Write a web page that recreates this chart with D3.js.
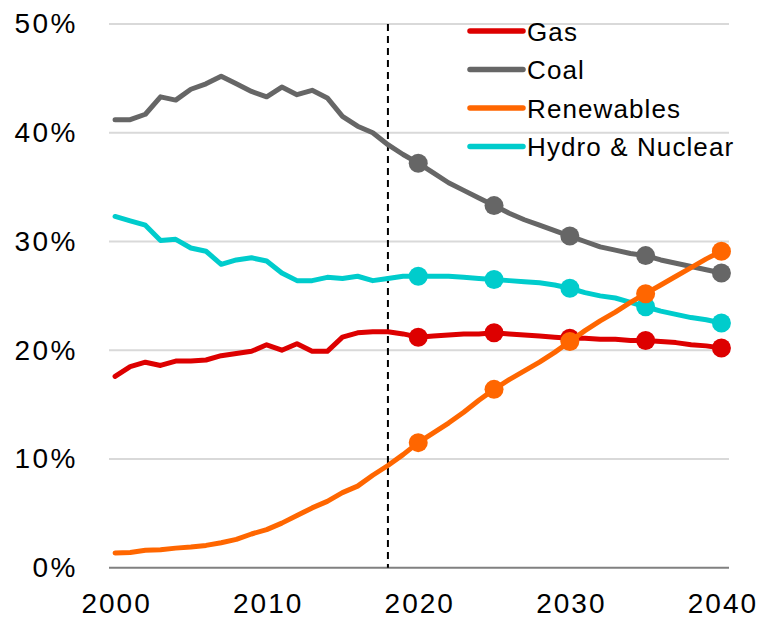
<!DOCTYPE html>
<html>
<head>
<meta charset="utf-8">
<script src="https://cdn.jsdelivr.net/npm/d3@7"></script>
<style>
  body { margin: 0; background: #fff; }
  text { font-family: "Liberation Sans", Arial, sans-serif; fill: #000; }
</style>
</head>
<body>
<svg id="svg"></svg>
<script>
/**
 * CONSTANTS AND GLOBALS
 * */
const width = 761,
  height = 622,
  margin = { top: 24, bottom: 54, left: 109, right: 32 };

const years = d3.range(2000, 2041);
const markerYears = [2020, 2025, 2030, 2035, 2040];
const splitYear = 2018;

const gas = [17.6, 18.5, 18.9, 18.6, 19.0, 19.0, 19.1, 19.5, 19.7, 19.9,
  20.5, 20.0, 20.6, 19.9, 19.9, 21.2, 21.6, 21.7, 21.7, 21.5,
  21.2, 21.3, 21.4, 21.5, 21.5, 21.6, 21.5, 21.4, 21.3, 21.2,
  21.1, 21.1, 21.0, 21.0, 20.9, 20.9, 20.8, 20.7, 20.5, 20.4, 20.2];
const coal = [41.2, 41.2, 41.7, 43.3, 43.0, 44.0, 44.5, 45.2, 44.5, 43.8,
  43.3, 44.2, 43.5, 43.9, 43.2, 41.5, 40.6, 40.0, 38.9, 38.0,
  37.2, 36.3, 35.4, 34.7, 34.0, 33.3, 32.6, 32.0, 31.5, 31.0,
  30.5, 30.0, 29.5, 29.2, 28.9, 28.7, 28.3, 28.0, 27.7, 27.4, 27.1];
const renewables = [1.35, 1.4, 1.6, 1.65, 1.8, 1.9, 2.05, 2.3, 2.6, 3.1,
  3.5, 4.1, 4.8, 5.5, 6.1, 6.9, 7.5, 8.5, 9.4, 10.4,
  11.5, 12.4, 13.3, 14.3, 15.4, 16.4, 17.3, 18.1, 18.9, 19.8,
  20.8, 21.8, 22.7, 23.5, 24.4, 25.2, 26.0, 26.8, 27.6, 28.4, 29.1];
const hydroNuclear = [32.3, 31.9, 31.5, 30.1, 30.2, 29.4, 29.1, 27.9, 28.3, 28.5,
  28.2, 27.1, 26.4, 26.4, 26.7, 26.6, 26.8, 26.4, 26.6, 26.8,
  26.8, 26.8, 26.8, 26.7, 26.6, 26.5, 26.4, 26.3, 26.2, 26.0,
  25.7, 25.3, 25.0, 24.8, 24.4, 24.0, 23.6, 23.3, 23.0, 22.8, 22.5];

const seriesNames = ["Gas", "Coal", "Renewables", "Hydro & Nuclear"];
const seriesColors = ["#dd0000", "#666666", "#ff6600", "#00cccc"];
const yTicks = [0, 10, 20, 30, 40, 50];
const xTicks = [2000, 2010, 2020, 2030, 2040];

const series = [gas, coal, renewables, hydroNuclear].map((vals, i) => ({
  name: seriesNames[i],
  color: seriesColors[i],
  values: years.map((y, j) => ({ year: y, value: vals[j] }))
}));

/**
 * DRAW
 * */
const svg = d3.select("#svg")
  .attr("width", width)
  .attr("height", height);

const xScale = d3.scaleLinear()
  .domain([1999.6, 2040.5])
  .range([margin.left, width - margin.right]);

const yScale = d3.scaleLinear()
  .domain([0, 50])
  .range([height - margin.bottom - 0.3, margin.top]);

// gridlines
svg.append("g")
  .selectAll("line")
  .data(yTicks)
  .join("line")
  .attr("x1", margin.left)
  .attr("x2", width - margin.right)
  .attr("y1", d => yScale(d))
  .attr("y2", d => yScale(d))
  .attr("stroke", d => d === 0 ? "#808080" : "#d9d9d9")
  .attr("stroke-width", 2);

// y axis labels
const yAxis = d3.axisLeft(yScale)
  .tickValues(yTicks)
  .tickFormat(d => d + "%")
  .tickSize(0)
  .tickPadding(31);

svg.append("g")
  .attr("transform", `translate(${margin.left},0)`)
  .call(yAxis)
  .call(g => g.select(".domain").remove())
  .call(g => g.selectAll("text")
    .attr("font-size", 28)
    .attr("letter-spacing", 2.5)
    .attr("fill", "#000")
    .attr("font-family", "'Liberation Sans', Arial, sans-serif"));

// x axis labels
const xAxis = d3.axisBottom(xScale)
  .tickValues(xTicks)
  .tickFormat(d3.format("d"))
  .tickSize(0)
  .tickPadding(25);

svg.append("g")
  .attr("transform", `translate(0,${yScale(0)})`)
  .call(xAxis)
  .call(g => g.select(".domain").remove())
  .call(g => g.selectAll("text")
    .attr("font-size", 28)
    .attr("letter-spacing", 2)
    .attr("dx", 1)
    .attr("fill", "#000")
    .attr("font-family", "'Liberation Sans', Arial, sans-serif"));

// dashed divider
svg.append("line")
  .attr("x1", xScale(splitYear))
  .attr("x2", xScale(splitYear))
  .attr("y1", yScale(50))
  .attr("y2", yScale(0))
  .attr("stroke", "#000")
  .attr("stroke-width", 2)
  .attr("stroke-dasharray", "7,5");

// lines
const line = d3.line()
  .x(d => xScale(d.year))
  .y(d => yScale(d.value));

const order = [1, 3, 0, 2]; // draw coal, hydro, gas, renewables
const seriesG = svg.append("g")
  .selectAll("g")
  .data(order.map(i => series[i]))
  .join("g");

seriesG.append("path")
  .attr("d", d => line(d.values))
  .attr("fill", "none")
  .attr("stroke", d => d.color)
  .attr("stroke-width", 5)
  .attr("stroke-linejoin", "round")
  .attr("stroke-linecap", "round");

seriesG.selectAll("circle")
  .data(d => d.values.filter(v => markerYears.includes(v.year)).map(v => ({ ...v, color: d.color })))
  .join("circle")
  .attr("cx", d => xScale(d.year))
  .attr("cy", d => yScale(d.value))
  .attr("r", 9.5)
  .attr("fill", d => d.color);

// legend
const legend = svg.append("g")
  .attr("transform", "translate(468,31)");

const item = legend.selectAll("g")
  .data(series)
  .join("g")
  .attr("transform", (d, i) => `translate(0,${i * 38.5})`);

item.append("line")
  .attr("x1", 2)
  .attr("x2", 55)
  .attr("stroke", d => d.color)
  .attr("stroke-width", 5.5)
  .attr("stroke-linecap", "round");

item.append("text")
  .attr("x", 59)
  .attr("y", 9.5)
  .attr("font-size", 26)
  .attr("letter-spacing", 1.1)
  .text(d => d.name);
</script>
</body>
</html>
